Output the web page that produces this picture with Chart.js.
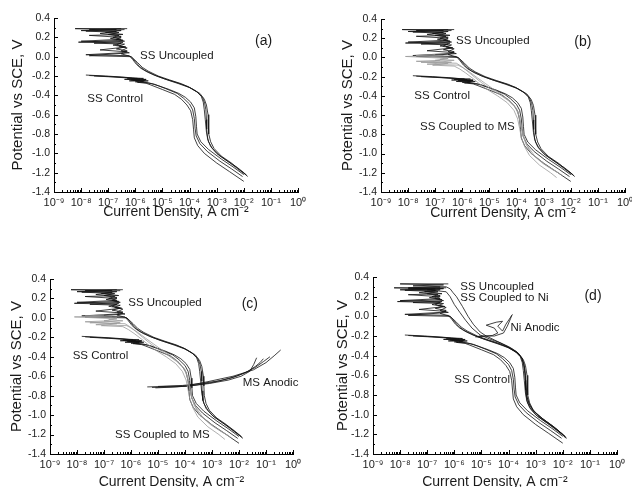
<!DOCTYPE html>
<html>
<head>
<meta charset="utf-8">
<script src="https://cdn.jsdelivr.net/npm/chart.js@4.4.1/dist/chart.umd.min.js"></script>
<style>
  html, body { margin: 0; padding: 0; background: #fff; overflow: hidden; width: 632px; height: 487px; }
  canvas { position: absolute; }
</style>
</head>
<body>
<canvas id="panelA" width="316" height="243" style="left:0;top:0"></canvas>
<canvas id="panelB" width="316" height="243" style="left:316px;top:0"></canvas>
<canvas id="panelC" width="316" height="260" style="left:0;top:243px"></canvas>
<canvas id="panelD" width="316" height="260" style="left:316px;top:243px"></canvas>
<script>
// Ejes: densidad de corriente (A cm-2) y potencial (V vs SCE)
const currentRange = [1e-9, 1];
const potentialRange = [-1.4, 0.4];
const potentialStep = 0.2;

// SS sin acoplar (3 réplicas) [corriente, potencial]
const ssUncoupled1 = [[5e-7,0.29],[6e-9,0.29],[2e-7,0.28],[1.5e-8,0.265],[2.5e-7,0.25],[1e-7,0.23],[3e-7,0.21],[1.2e-7,0.19],[3.5e-7,0.17],[8e-9,0.15],[3e-7,0.14],[1.5e-7,0.12],[4e-7,0.10],[2e-7,0.08],[5e-7,0.06],[3e-7,0.04],[1.5e-8,0.02],[6e-7,0.01],[8e-7,-0.03],[1.1e-6,-0.08],[1.6e-6,-0.12],[2.8e-6,-0.16],[6e-6,-0.2],[1.5e-5,-0.24],[4e-5,-0.28],[1e-4,-0.32],[2e-4,-0.37],[3e-4,-0.42],[3.6e-4,-0.48],[4e-4,-0.55],[4.2e-4,-0.65],[4.3e-4,-0.75],[4.6e-4,-0.85],[6e-4,-0.93],[1e-3,-1.0],[2.5e-3,-1.08],[6e-3,-1.15],[1e-2,-1.2],[1.4e-2,-1.24]];
const ssUncoupled2 = [[4e-7,0.28],[1e-8,0.27],[2e-7,0.26],[5e-8,0.24],[2.5e-7,0.22],[1.5e-7,0.2],[3e-7,0.18],[1e-8,0.16],[3.5e-7,0.15],[2e-7,0.12],[4.5e-7,0.1],[5e-8,0.07],[5e-7,0.05],[3e-7,0.03],[7e-7,0.0],[1e-6,-0.05],[1.4e-6,-0.1],[2.2e-6,-0.14],[5e-6,-0.19],[1.2e-5,-0.23],[3.5e-5,-0.27],[9e-5,-0.31],[1.8e-4,-0.36],[2.7e-4,-0.41],[3.2e-4,-0.47],[3.5e-4,-0.55],[3.8e-4,-0.65],[4.2e-4,-0.78],[5e-4,-0.88],[7e-4,-0.95],[1.2e-3,-1.02],[2.8e-3,-1.09],[6e-3,-1.16],[1.3e-2,-1.23]];
const ssUncoupled3 = [[3e-7,0.29],[2e-8,0.28],[3e-7,0.27],[8e-8,0.25],[3.5e-7,0.23],[2e-8,0.22],[3e-7,0.2],[2e-7,0.18],[4e-7,0.16],[3e-8,0.14],[4e-7,0.13],[2.5e-7,0.11],[5e-7,0.09],[3e-7,0.06],[6e-7,0.04],[2e-8,0.01],[7e-7,0.0],[1.2e-6,-0.06],[1.8e-6,-0.11],[3e-6,-0.15],[7e-6,-0.2],[1.8e-5,-0.24],[5e-5,-0.28],[1.2e-4,-0.33],[2.4e-4,-0.38],[3.5e-4,-0.44],[4.2e-4,-0.5],[4.8e-4,-0.6],[5e-4,-0.7],[5.2e-4,-0.8],[6e-4,-0.88],[8e-4,-0.95],[1.5e-3,-1.03],[3.5e-3,-1.1],[7e-3,-1.17],[1.2e-2,-1.22]];

// SS control (3 réplicas)
const ssControl1 = [[1.5e-8,-0.19],[8e-8,-0.2],[3e-7,-0.21],[8e-7,-0.22],[2e-6,-0.225],[4e-7,-0.235],[2.5e-6,-0.24],[6e-7,-0.25],[2e-6,-0.255],[1.2e-6,-0.265],[2.5e-6,-0.275],[3.5e-6,-0.29],[1e-5,-0.34],[2.8e-5,-0.39],[5e-5,-0.44],[8e-5,-0.5],[1.1e-4,-0.56],[1.3e-4,-0.65],[1.4e-4,-0.75],[1.5e-4,-0.84],[2e-4,-0.92],[3.5e-4,-1.0],[1e-3,-1.1],[3e-3,-1.19],[1e-2,-1.29]];
const ssControl2 = [[2e-8,-0.195],[1e-7,-0.205],[4e-7,-0.215],[1.2e-6,-0.225],[5e-7,-0.23],[2.5e-6,-0.235],[8e-7,-0.245],[3e-6,-0.25],[1.5e-6,-0.26],[3e-6,-0.27],[5e-6,-0.285],[1.3e-5,-0.33],[3.5e-5,-0.38],[6e-5,-0.43],[1e-4,-0.49],[1.3e-4,-0.55],[1.5e-4,-0.64],[1.6e-4,-0.74],[1.75e-4,-0.82],[2.4e-4,-0.9],[4.5e-4,-0.98],[1.3e-3,-1.08],[3.5e-3,-1.16],[9e-3,-1.24]];
const ssControl3 = [[3e-8,-0.2],[1.5e-7,-0.21],[5e-7,-0.22],[1.5e-6,-0.23],[7e-7,-0.24],[2.2e-6,-0.245],[1e-6,-0.26],[2.5e-6,-0.27],[4e-6,-0.28],[7e-6,-0.3],[1.8e-5,-0.34],[4e-5,-0.38],[7e-5,-0.42],[1.1e-4,-0.47],[1.5e-4,-0.53],[1.7e-4,-0.62],[1.8e-4,-0.72],[1.9e-4,-0.8],[2.6e-4,-0.88],[5e-4,-0.96],[1.5e-3,-1.06],[4e-3,-1.14],[1e-2,-1.22]];

// SS acoplado a MS (gris)
const ssCoupledMS1 = [[1e-7,0.03],[2e-8,0.02],[3e-7,0.0],[1.5e-7,-0.02],[5e-7,-0.03],[3e-8,-0.05],[6e-7,-0.06],[9e-7,-0.09],[1.5e-6,-0.14],[2.7e-6,-0.2],[5e-6,-0.26],[1e-5,-0.32],[2.2e-5,-0.38],[5e-5,-0.45],[9e-5,-0.52],[1.2e-4,-0.6],[1.4e-4,-0.7],[1.7e-4,-0.8],[2.2e-4,-0.9],[3.5e-4,-1.0],[9e-4,-1.1],[2.2e-3,-1.17],[4e-3,-1.21]];
const ssCoupledMS2 = [[2e-7,0.02],[8e-9,0.01],[3e-7,-0.01],[1e-7,-0.03],[4e-7,-0.05],[5e-8,-0.07],[7e-7,-0.08],[1.1e-6,-0.11],[1.8e-6,-0.15],[3.5e-6,-0.21],[7e-6,-0.27],[1.4e-5,-0.33],[3e-5,-0.39],[6e-5,-0.46],[1e-4,-0.53],[1.3e-4,-0.62],[1.5e-4,-0.72],[1.8e-4,-0.82],[2.5e-4,-0.92],[4.5e-4,-1.02],[1.2e-3,-1.12],[3e-3,-1.19],[5e-3,-1.23]];
const ssCoupledMS3 = [[1.5e-7,-0.03],[2e-8,-0.04],[3e-7,-0.06],[8e-8,-0.08],[5e-7,-0.09],[8e-7,-0.12],[1.3e-6,-0.16],[2.5e-6,-0.22],[4.5e-6,-0.28],[9e-6,-0.34],[2e-5,-0.4],[4.5e-5,-0.47],[8e-5,-0.55],[1.1e-4,-0.64],[1.3e-4,-0.74],[1.5e-4,-0.83],[2e-4,-0.93],[3e-4,-1.02],[7e-4,-1.12],[1.8e-3,-1.2],[3e-3,-1.25]];

// MS anódico
const msAnodic1 = [[4e-6,-0.71],[2e-5,-0.705],[1.1e-4,-0.70],[6e-4,-0.66],[6e-3,-0.60],[3.4e-2,-0.535],[1e-1,-0.46],[2e-1,-0.39],[3.5e-1,-0.33]];
const msAnodic2 = [[8e-6,-0.72],[5e-5,-0.71],[2e-4,-0.695],[1e-3,-0.665],[5e-3,-0.62],[1.5e-2,-0.57],[4e-2,-0.51],[8e-2,-0.45],[1.4e-1,-0.40]];
const msAnodic3 = [[1e-5,-0.705],[8e-5,-0.695],[4e-4,-0.675],[2e-3,-0.645],[8e-3,-0.60],[2e-2,-0.555],[4e-2,-0.5],[6e-2,-0.46],[8e-2,-0.42]];
const msAnodic4 = [[6e-6,-0.715],[3e-5,-0.71],[1.5e-4,-0.70],[8e-4,-0.675],[4e-3,-0.64],[1.2e-2,-0.6],[2.5e-2,-0.55],[3.5e-2,-0.48],[4.5e-2,-0.41]];

// SS acoplado a Ni
const ssCoupledNi1 = [[6e-7,0.33],[1e-8,0.33],[4e-7,0.32],[3e-8,0.31],[5e-7,0.30],[7e-7,0.28],[9e-7,0.24],[1.2e-6,0.2],[2e-6,0.1],[3.2e-6,0.0],[5e-6,-0.08],[9e-6,-0.16],[1.5e-5,-0.2],[3e-5,-0.24],[6e-5,-0.28],[1.2e-4,-0.32],[2.2e-4,-0.37],[3.2e-4,-0.43],[3.8e-4,-0.5],[4.2e-4,-0.6],[4.5e-4,-0.72],[4.8e-4,-0.82],[6e-4,-0.9],[9e-4,-0.97],[2e-3,-1.05],[5e-3,-1.13],[1e-2,-1.2],[1.3e-2,-1.24]];
const ssCoupledNi2 = [[3e-7,0.30],[2e-8,0.29],[4e-7,0.285],[1e-7,0.27],[5e-7,0.25],[7e-7,0.2],[1e-6,0.12],[1.6e-6,0.04],[2.6e-6,-0.04],[4.5e-6,-0.12],[9e-6,-0.19],[2e-5,-0.23],[5e-5,-0.27],[1e-4,-0.31],[2e-4,-0.36],[3e-4,-0.42],[3.6e-4,-0.49],[4e-4,-0.58],[4.3e-4,-0.7],[4.6e-4,-0.8],[5.5e-4,-0.88],[8e-4,-0.96],[1.8e-3,-1.04],[4.5e-3,-1.12],[9e-3,-1.19],[1.2e-2,-1.23]];

// Ni anódico
const niAnodic1 = [[6e-6,-0.21],[2.5e-5,-0.195],[4e-5,-0.17],[3e-5,-0.12],[1.5e-5,-0.09],[3.5e-5,-0.06],[6e-5,-0.05],[4e-5,-0.10],[6e-5,-0.15],[8e-5,-0.08],[1.4e-4,0.02]];
const niAnodic2 = [[8e-6,-0.2],[3e-5,-0.2],[6.5e-5,-0.17],[9e-5,-0.1],[1.2e-4,-0.02],[1.3e-4,0.01]];

const BLACK = '#111';
const GRAY = '#9a9a9a';
const FONT = '"Liberation Sans", Arial, sans-serif';

function serie(data, color) {
    return { data: data, borderColor: color, borderWidth: 0.8, pointRadius: 0, showLine: true, fill: false, tension: 0 };
}

const base = [
    serie(ssUncoupled1, BLACK), serie(ssUncoupled2, BLACK), serie(ssUncoupled3, BLACK),
    serie(ssControl1, BLACK), serie(ssControl2, BLACK), serie(ssControl3, BLACK)
];
const coupledMS = [serie(ssCoupledMS1, GRAY), serie(ssCoupledMS2, GRAY), serie(ssCoupledMS3, GRAY)];

const sup = { '-': '\u207B', '0': '\u2070', '1': '\u00B9', '2': '\u00B2', '3': '\u00B3', '4': '\u2074', '5': '\u2075', '6': '\u2076', '7': '\u2077', '8': '\u2078', '9': '\u2079' };
function decadeLabel(v) {
    const e = Math.log10(v);
    if (Math.abs(e - Math.round(e)) > 1e-6) return '';
    return '10' + String(Math.round(e)).split('').map(c => sup[c]).join('');
}

// Ticks hacia adentro y rótulos
const decor = {
    id: 'decor',
    afterDraw(chart, args, opts) {
        const { ctx, chartArea: a, scales: { x, y } } = chart;
        ctx.save();
        ctx.strokeStyle = '#000';
        ctx.lineWidth = 1;
        ctx.beginPath();
        for (let e = -9; e <= 0; e++) {
            for (let m = 1; m <= 9; m++) {
                const v = m * Math.pow(10, e);
                if (v > 1.0000001) break;
                const px = Math.round(x.getPixelForValue(v)) + 0.5;
                ctx.moveTo(px, a.bottom);
                ctx.lineTo(px, a.bottom - (m === 1 ? 4 : 2));
            }
        }
        for (let k = 0; k <= 18; k++) {
            const py = Math.round(y.getPixelForValue(potentialRange[0] + k * 0.1)) + 0.5;
            ctx.moveTo(a.left, py);
            ctx.lineTo(a.left + (k % 2 === 0 ? 4 : 2), py);
        }
        ctx.stroke();
        ctx.fillStyle = '#1a1a1a';
        ctx.textBaseline = 'middle';
        ctx.textAlign = 'left';
        opts.labels.forEach(l => {
            ctx.font = (l.size || 11.5) + 'px ' + FONT;
            ctx.fillText(l.text, x.getPixelForValue(l.x), y.getPixelForValue(l.y));
        });
        ctx.restore();
    }
};

function panel(id, datasets, box, labels) {
    new Chart(document.getElementById(id), {
        type: 'scatter',
        data: { datasets: datasets },
        options: {
            responsive: false,
            animation: false,
            devicePixelRatio: 1,
            layout: { padding: { top: box.top, right: box.right, left: 0, bottom: 0 } },
            plugins: { legend: { display: false }, tooltip: { enabled: false }, decor: { labels: labels } },
            scales: {
                x: {
                    type: 'logarithmic',
                    min: currentRange[0],
                    max: currentRange[1],
                    grid: { display: false, drawTicks: false },
                    border: { display: true, color: '#000', width: 1 },
                    ticks: { autoSkip: false, maxRotation: 0, padding: 4, color: '#222', font: { family: FONT, size: 11 }, callback: decadeLabel },
                    title: { display: true, text: 'Current Density, A cm\u207B\u00B2', color: '#1a1a1a', font: { family: FONT, size: 14 }, padding: { top: 0, bottom: box.xTitle } },
                    afterFit(s) { s.height = box.xHeight; s.paddingLeft = 0; s.paddingRight = 0; }
                },
                y: {
                    min: potentialRange[0],
                    max: potentialRange[1],
                    grid: { display: false, drawTicks: false },
                    border: { display: true, color: '#000', width: 1 },
                    ticks: { stepSize: potentialStep, padding: 4, color: '#222', font: { family: FONT, size: 10.5 },
                        callback: v => (Math.abs(v) < 1e-9 ? 0 : v).toFixed(1) },
                    title: { display: true, text: 'Potential vs SCE, V', color: '#1a1a1a', font: { family: FONT, size: 15 }, padding: { top: box.yTitle, bottom: 0 } },
                    afterFit(s) { s.width = box.left; s.paddingTop = 0; s.paddingBottom = 0; }
                }
            }
        },
        plugins: [decor]
    });
}

panel('panelA', base,
    { left: 54, top: 18, right: 18, xHeight: 51, xTitle: 22, yTitle: 9 },
    [
        { text: 'SS Uncoupled', x: 1.5e-6, y: 0.007 },
        { text: 'SS Control', x: 1.7e-8, y: -0.44 },
        { text: '(a)', x: 2.6e-2, y: 0.162, size: 14 }
    ]);

panel('panelB', coupledMS.concat(base),
    { left: 65, top: 19, right: 7, xHeight: 51, xTitle: 21, yTitle: 22.7 },
    [
        { text: 'SS Uncoupled', x: 5.9e-7, y: 0.171 },
        { text: '(b)', x: 1.35e-2, y: 0.164, size: 14 },
        { text: 'SS Control', x: 1.7e-8, y: -0.398 },
        { text: 'SS Coupled to MS', x: 2.75e-8, y: -0.72 }
    ]);

panel('panelC', coupledMS.concat(base, [serie(msAnodic1, BLACK), serie(msAnodic2, BLACK), serie(msAnodic3, BLACK), serie(msAnodic4, BLACK)]),
    { left: 50, top: 36, right: 23, xHeight: 49, xTitle: 12.6, yTitle: 8.3 },
    [
        { text: 'SS Uncoupled', x: 7.9e-7, y: 0.153 },
        { text: '(c)', x: 1.26e-2, y: 0.146, size: 14 },
        { text: 'SS Control', x: 6.9e-9, y: -0.395 },
        { text: 'MS Anodic', x: 1.38e-2, y: -0.67 },
        { text: 'SS Coupled to MS', x: 2.57e-7, y: -1.2 }
    ]);

panel('panelD', base.concat([serie(ssCoupledNi1, BLACK), serie(ssCoupledNi2, BLACK), serie(niAnodic1, BLACK), serie(niAnodic2, BLACK)]),
    { left: 57, top: 34, right: 15, xHeight: 49, xTitle: 12.6, yTitle: 17.7 },
    [
        { text: 'SS Uncoupled', x: 1.66e-6, y: 0.298 },
        { text: 'SS Coupled to Ni', x: 1.66e-6, y: 0.186 },
        { text: '(d)', x: 6.3e-2, y: 0.204, size: 14 },
        { text: 'Ni Anodic', x: 1.17e-4, y: -0.119 },
        { text: 'SS Control', x: 1e-6, y: -0.645 }
    ]);
</script>
</body>
</html>
